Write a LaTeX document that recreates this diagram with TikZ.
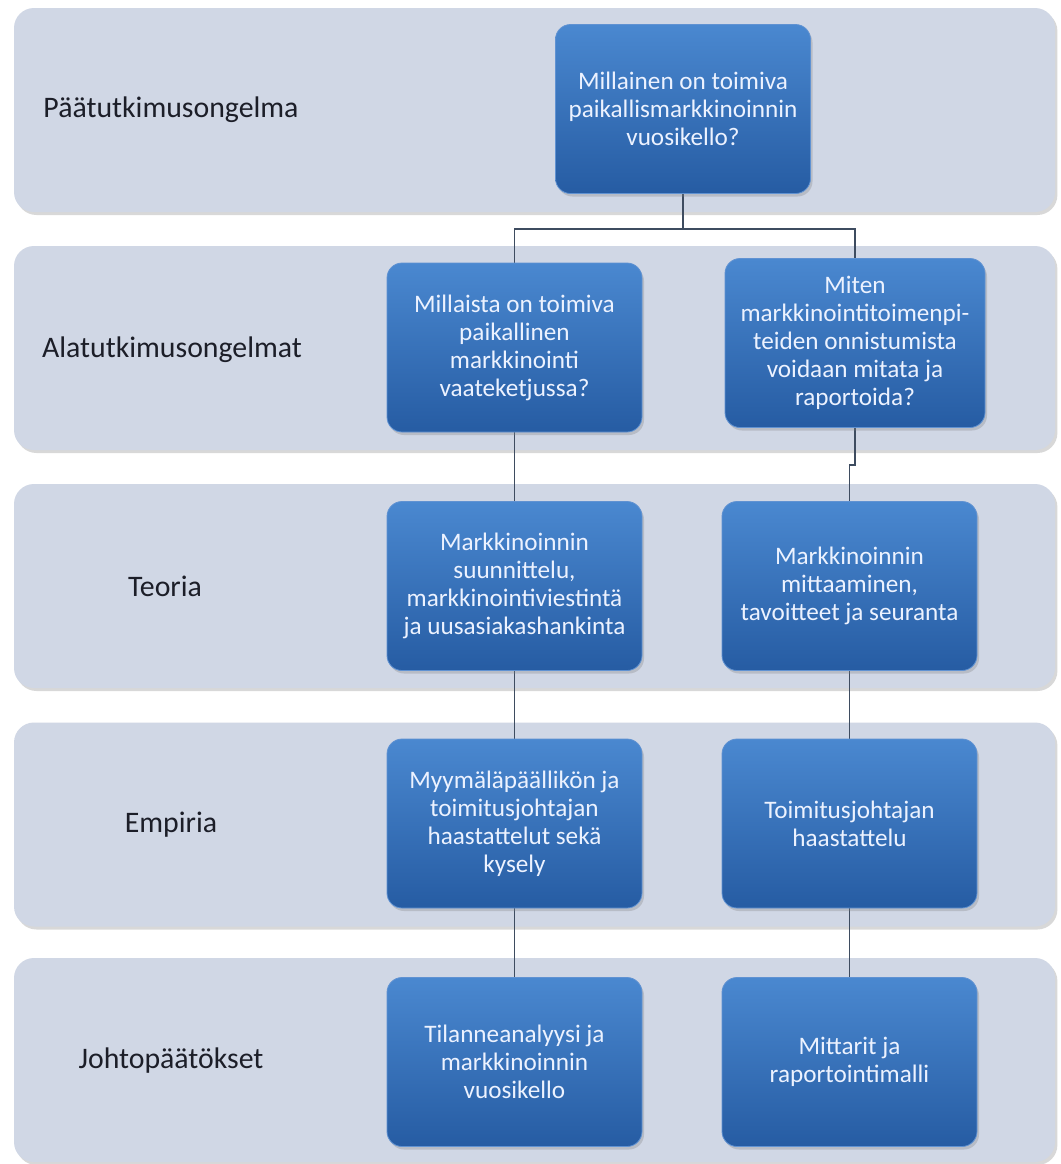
\documentclass[tikz,border=0pt]{standalone}
\usepackage{fontspec}
\setmainfont{Carlito}
\usetikzlibrary{shadows}
\definecolor{bandfill}{RGB}{208,215,229}
\definecolor{boxtop}{RGB}{74,136,208}
\definecolor{boxbot}{RGB}{38,92,163}
\definecolor{boxedge}{RGB}{96,146,210}
\definecolor{linkcol}{RGB}{62,76,96}
\definecolor{labelcol}{RGB}{28,30,40}
\definecolor{boxtext}{RGB}{236,242,255}
\pgfdeclarelayer{bands}
\pgfdeclarelayer{links}
\pgfsetlayers{bands,links,main}
\begin{document}
\begin{tikzpicture}[x=0.5pt,y=-0.5pt,
  band/.style={rectangle, rounded corners=10pt, fill=bandfill,
    minimum width=520.5pt, minimum height=102pt, inner sep=0pt,
    drop shadow={opacity=0.3, shadow xshift=1.2pt, shadow yshift=-1.5pt}},
  bandlabel/.style={text=labelcol, font=\fontsize{14.9}{18}\selectfont, inner sep=0pt},
  stepbox/.style={rectangle, rounded corners=7.5pt, draw=boxedge, line width=0.4pt,
    top color=boxtop, bottom color=boxbot, text=boxtext,
    minimum width=127.5pt, minimum height=84.5pt, inner sep=2pt,
    align=center, font=\fontsize{12.6}{14}\selectfont,
    drop shadow={opacity=0.3, shadow xshift=1pt, shadow yshift=-1.5pt}},
  link/.style={draw=linkcol, line width=0.75pt}
]
\begin{pgfonlayer}{bands}
\fill[white] (0,0) rectangle (1061,1164);
% horizontal bands, one per level
\node[band] (band1) at (534.5,110) {};
\node[band] (band2) at (534.5,348) {};
\node[band] (band3) at (534.5,586) {};
\node[band] (band4) at (534.5,824.5) {};
\node[band] (band5) at (534.5,1060) {};
\end{pgfonlayer}
\useasboundingbox (0,0) rectangle (1061,1164);

% level titles
\node[bandlabel] (lab1) at (171,110) {Päätutkimusongelma};
\node[bandlabel] (lab2) at (172,350) {Alatutkimusongelmat};
\node[bandlabel] (lab3) at (165,586) {Teoria};
\node[bandlabel] (lab4) at (171,825) {Empiria};
\node[bandlabel] (lab5) at (171,1061) {Johtopäätökset};

% boxes
\node[stepbox] (top) at (683,109) {Millainen on toimiva\\paikallismarkkinoinnin\\vuosikello?};
\node[stepbox] (l2) at (514.5,347.5) {Millaista on toimiva\\paikallinen\\markkinointi\\vaateketjussa?};
\node[stepbox, minimum width=130pt] (r2) at (855,343) {Miten\\markkinointitoimenpi-\\teiden onnistumista\\voidaan mitata ja\\raportoida?};
\node[stepbox] (l3) at (514.5,586) {Markkinoinnin\\suunnittelu,\\markkinointiviestintä\\ja uusasiakashankinta};
\node[stepbox] (r3) at (849.5,586) {Markkinoinnin\\mittaaminen,\\tavoitteet ja seuranta};
\node[stepbox] (l4) at (514.5,823.5) {Myymäläpäällikön ja\\toimitusjohtajan\\haastattelut sekä\\kysely};
\node[stepbox] (r4) at (849.5,823.5) {Toimitusjohtajan\\haastattelu};
\node[stepbox] (l5) at (514.5,1062) {Tilanneanalyysi ja\\markkinoinnin\\vuosikello};
\node[stepbox] (r5) at (849.5,1062) {Mittarit ja\\raportointimalli};

% bend points of the connectors
\coordinate (split) at (683,229);
\coordinate (jogA) at (855,465);
\coordinate (jogB) at (849.5,465);

% connectors, beneath the boxes
\begin{pgfonlayer}{links}
\draw[link] (top.south) -- (split);
\draw[link] (l2.north) |- (split) -| (r2.north);
\draw[link] (l2.south) -- (l3.north);
\draw[link] (l3.south) -- (l4.north);
\draw[link] (l4.south) -- (l5.north);
\draw[link] (r2.south) -- (jogA) -- (jogB) -- (r3.north);
\draw[link] (r3.south) -- (r4.north);
\draw[link] (r4.south) -- (r5.north);
\end{pgfonlayer}
\end{tikzpicture}
\end{document}
